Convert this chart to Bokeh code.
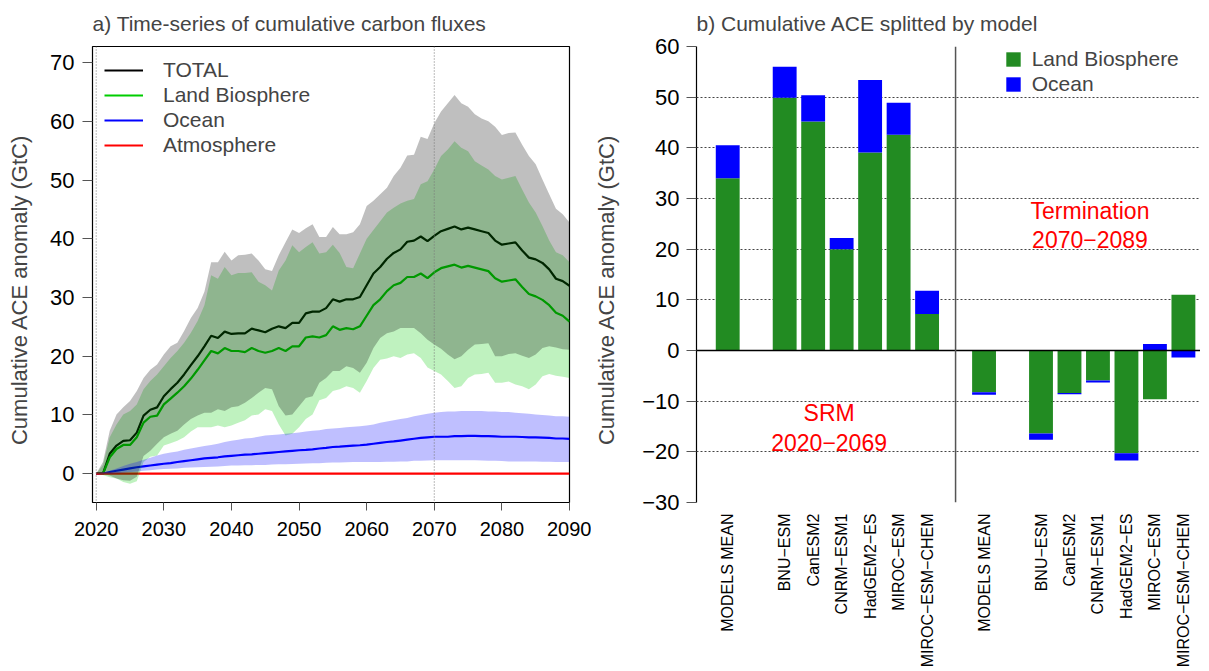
import math
from bokeh.plotting import figure
from bokeh.models import Legend, LegendItem, Span, Label, FixedTicker, Range1d
from bokeh.layouts import row
from bokeh.embed import file_html
from bokeh.resources import INLINE

FONT = "Liberation Sans"

# ---------------- panel a) data ----------------
years = list(range(2020, 2091))

total_mean = [0.0, 0.0, 3.4, 4.8, 5.6, 5.7, 7.0, 9.9, 10.9, 11.3,
              13.2, 14.4, 15.5, 16.9, 18.5, 20.0, 21.7, 23.5, 23.1, 24.2,
              23.8, 23.9, 23.9, 24.7, 24.4, 24.1, 24.7, 25.1, 24.8, 25.7,
              25.7, 27.3, 27.6, 27.6, 28.2, 29.7, 29.3, 29.7, 29.7, 30.1,
              32.1, 34.1, 35.2, 36.6, 37.6, 38.2, 39.5, 39.7, 40.4, 39.6,
              40.5, 41.3, 41.7, 42.1, 41.6, 41.9, 41.6, 41.3, 41.0, 39.7,
              39.0, 39.2, 39.4, 38.0, 36.8, 36.5, 35.9, 34.8, 33.2, 32.8,
              32.0]
total_lo = [0.0, -0.1, -0.3, -0.8, -1.1, -1.2, -0.5, 3.0, 3.9, 5.1,
            6.2, 6.8, 7.3, 8.4, 9.3, 9.9, 10.4, 10.4, 11.0, 10.7,
            11.3, 11.5, 12.1, 12.9, 13.8, 14.6, 14.4, 11.5, 9.9, 10.1,
            11.5, 12.9, 13.2, 15.5, 16.3, 17.5, 17.5, 18.3, 18.0, 17.2,
            18.9, 21.4, 23.1, 23.9, 24.2, 24.8, 24.8, 24.8, 23.9, 22.8,
            22.0, 21.3, 20.3, 19.5, 20.0, 21.1, 22.0, 22.1, 22.2, 20.0,
            20.0, 20.4, 20.5, 20.1, 19.7, 20.3, 21.4, 21.7, 21.5, 21.2,
            21.1]
total_hi = [0.0, 2.0, 7.3, 10.1, 11.3, 12.4, 14.1, 16.3, 17.7, 18.6,
            20.3, 21.7, 22.3, 24.3, 26.5, 28.2, 31.0, 36.0, 36.0, 37.8,
            36.3, 37.2, 37.3, 37.5, 36.3, 34.8, 34.5, 37.2, 39.4, 41.6,
            41.0, 41.8, 42.5, 40.3, 40.3, 42.0, 40.8, 40.8, 41.1, 42.5,
            45.6, 46.5, 47.6, 48.7, 50.7, 52.1, 54.2, 54.3, 57.4, 57.0,
            59.7, 61.7, 63.1, 64.5, 63.1, 62.5, 61.2, 60.5, 60.0, 59.1,
            57.7, 58.0, 58.1, 56.0, 54.1, 52.7, 50.1, 47.6, 45.1, 44.2,
            42.8]

land_mean = [0.0, 0.0, 2.8, 4.2, 4.9, 4.9, 6.2, 8.7, 9.7, 9.9,
             11.8, 12.8, 13.8, 14.9, 16.2, 17.7, 19.3, 20.9, 20.5, 21.4,
             20.9, 20.9, 20.7, 21.4, 20.9, 20.6, 20.9, 21.4, 20.9, 21.7,
             21.7, 23.2, 23.4, 23.2, 23.6, 25.1, 24.5, 24.8, 24.6, 25.1,
             26.9, 28.7, 29.7, 31.1, 32.1, 32.5, 33.5, 33.5, 34.1, 33.3,
             34.3, 35.0, 35.3, 35.6, 35.1, 35.4, 35.1, 34.8, 34.5, 33.3,
             32.7, 32.9, 33.1, 31.8, 30.6, 30.2, 29.6, 28.7, 27.4, 26.9,
             25.9]
land_lo = [0.0, -0.2, -0.6, -0.8, -1.4, -1.7, -1.3, 2.0, 2.9, 3.1,
           4.8, 5.2, 5.6, 6.2, 7.2, 7.9, 7.9, 7.9, 8.2, 7.9,
           8.2, 8.7, 9.1, 9.9, 10.1, 11.0, 10.7, 8.4, 6.5, 6.8,
           7.9, 9.3, 10.1, 12.5, 12.9, 14.1, 14.4, 14.9, 14.6, 13.8,
           15.8, 18.0, 19.4, 19.6, 20.0, 19.7, 20.3, 20.5, 19.7, 18.1,
           17.5, 16.9, 15.8, 14.6, 14.9, 16.3, 16.9, 17.0, 17.2, 15.5,
           15.5, 15.7, 15.2, 14.9, 14.4, 15.2, 16.6, 17.0, 16.7, 16.5,
           16.3]
land_hi = [0.0, 1.5, 6.2, 8.4, 10.1, 10.7, 11.8, 14.4, 15.8, 16.9,
           18.3, 19.7, 20.9, 22.3, 24.0, 26.0, 28.7, 33.8, 33.2, 35.2,
           33.8, 34.2, 34.2, 34.3, 32.7, 32.1, 31.2, 34.6, 36.3, 38.9,
           37.7, 38.6, 39.4, 37.5, 37.7, 39.0, 37.6, 35.2, 35.0, 37.5,
           40.0, 41.5, 43.0, 44.5, 45.3, 46.0, 46.5, 46.8, 49.3, 49.8,
           51.8, 54.1, 55.2, 56.6, 55.5, 54.9, 53.2, 52.5, 51.8, 50.7,
           50.1, 50.4, 50.7, 48.4, 46.2, 44.5, 42.2, 39.7, 37.7, 37.2,
           36.0]

ocean_mean = [0.0, 0.0, 0.3, 0.5, 0.7, 0.9, 1.1, 1.25, 1.4, 1.55,
              1.7, 1.8, 2.0, 2.15, 2.3, 2.45, 2.6, 2.7, 2.8, 2.95,
              3.05, 3.15, 3.25, 3.3, 3.4, 3.5, 3.6, 3.7, 3.8, 3.9,
              4.0, 4.05, 4.15, 4.3, 4.4, 4.55, 4.6, 4.7, 4.8, 4.85,
              4.95, 5.1, 5.25, 5.4, 5.5, 5.65, 5.8, 5.95, 6.1, 6.2,
              6.3, 6.3, 6.3, 6.4, 6.4, 6.45, 6.45, 6.4, 6.4, 6.35,
              6.3, 6.3, 6.3, 6.25, 6.2, 6.2, 6.15, 6.1, 6.0, 6.0,
              5.95]
ocean_lo = [0.0, 0.0, 0.0, 0.1, 0.2, 0.3, 0.4, 0.5, 0.6, 0.7,
            0.8, 0.85, 0.9, 1.0, 1.05, 1.1, 1.15, 1.2, 1.25, 1.3,
            1.4, 1.4, 1.45, 1.45, 1.5, 1.5, 1.55, 1.6, 1.6, 1.65,
            1.7, 1.75, 1.8, 1.8, 1.85, 1.9, 1.9, 1.95, 2.0, 2.0,
            2.0, 2.0, 2.0, 2.05, 2.05, 2.1, 2.1, 2.2, 2.2, 2.25,
            2.3, 2.3, 2.3, 2.3, 2.3, 2.3, 2.3, 2.25, 2.2, 2.2,
            2.15, 2.1, 2.1, 2.1, 2.1, 2.1, 2.05, 2.05, 2.0, 2.0,
            2.0]
ocean_hi = [0.0, 0.2, 0.5, 0.9, 1.3, 1.7, 2.0, 2.4, 2.7, 3.1,
            3.4, 3.6, 3.8, 4.1, 4.3, 4.5, 4.7, 4.9, 5.1, 5.4,
            5.6, 5.8, 6.0, 6.1, 6.3, 6.5, 6.6, 6.7, 6.8, 6.9,
            7.0, 7.2, 7.3, 7.4, 7.6, 7.7, 7.8, 7.9, 8.0, 8.1,
            8.2, 8.4, 8.7, 8.9, 9.1, 9.3, 9.5, 9.8, 10.0, 10.2,
            10.4, 10.5, 10.6, 10.6, 10.7, 10.7, 10.7, 10.7, 10.6, 10.6,
            10.5, 10.5, 10.4, 10.3, 10.2, 10.1, 10.0, 9.9, 9.8, 9.8,
            9.7]

atmosphere = [0.0, 0.0, 0.0, 0.0, 0.0, 0.0, 0.0, 0.0, 0.0, 0.0,
              0.0, 0.0, 0.0, 0.0, 0.0, 0.0, 0.0, 0.0, 0.0, 0.0,
              0.0, 0.0, 0.0, 0.0, 0.0, 0.0, 0.0, 0.0, 0.0, 0.0,
              0.0, 0.0, 0.0, 0.0, 0.0, 0.0, 0.0, 0.0, 0.0, 0.0,
              0.0, 0.0, 0.0, 0.0, 0.0, 0.0, 0.0, 0.0, 0.0, 0.0,
              0.0, 0.0, 0.0, 0.0, 0.0, 0.0, 0.0, 0.0, 0.0, 0.0,
              0.0, 0.0, 0.0, 0.0, 0.0, 0.0, 0.0, 0.0, 0.0, 0.0,
              0.0]

marked_years = [2020, 2070]
x_ticks_a = [2020, 2030, 2040, 2050, 2060, 2070, 2080, 2090]
y_ticks_a = [0, 10, 20, 30, 40, 50, 60, 70]

# ---------------- panel b) data ----------------
models = ["MODELS MEAN", "BNU-ESM", "CanESM2", "CNRM-ESM1", "HadGEM2-ES",
          "MIROC-ESM", "MIROC-ESM-CHEM"]
srm_land = [34.0, 49.9, 45.2, 20.0, 39.1, 42.6, 7.2]
srm_ocean = [6.5, 6.1, 5.2, 2.2, 14.3, 6.3, 4.6]
term_land = [-8.25, -16.4, -8.4, -5.9, -20.3, -9.6, 11.0]
term_ocean = [-0.5, -1.2, -0.25, -0.4, -1.4, 1.3, -1.4]
y_ticks_b = [-30, -20, -10, 0, 10, 20, 30, 40, 50, 60]
period_texts = [("SRM", "2020\u22122069"), ("Termination", "2070\u22122089")]

Y_LABEL = "Cumulative ACE anomaly (GtC)" + "\u00a0" * 5
H = 670          # both panels share the same frame top/bottom
B_TOP, B_BOT = 46, 164


def style_title(p, text):
    p.title.text = text
    p.title.text_font = FONT
    p.title.text_font_size = "21px"
    p.title.text_font_style = "normal"
    p.title.vertical_align = "top"
    p.title.standoff = 20
    p.title.offset = 0


# ====================== panel a ======================
p1 = figure(width=591, height=H, output_backend="svg", toolbar_location=None,
            x_range=Range1d(2019.45, 2090), y_range=Range1d(-4.9, 72.75),
            min_border_left=92, min_border_right=22, min_border_top=B_TOP,
            min_border_bottom=B_BOT)
style_title(p1, "a) Time-series of cumulative carbon fluxes")

r_tot = p1.line(years, total_mean, line_color="black", line_width=2.2)
r_land = p1.line(years, land_mean, line_color="#00CD00", line_width=2.2)
r_oc = p1.line(years, ocean_mean, line_color="#0000FF", line_width=2.2)
r_atm = p1.line(years, atmosphere, line_color="#FF0000", line_width=2.2)

p1.varea(x=years, y1=land_lo, y2=land_hi, fill_color="#00CD00", fill_alpha=0.25)
p1.varea(x=years, y1=total_lo, y2=total_hi, fill_color="black", fill_alpha=0.25)
p1.varea(x=years, y1=ocean_lo, y2=ocean_hi, fill_color="#0000FF", fill_alpha=0.25)

for yr in marked_years:
    p1.add_layout(Span(location=yr, dimension="height", line_color="#777777",
                       line_dash="1 2", line_width=1))

p1.xaxis.ticker = FixedTicker(ticks=x_ticks_a)
p1.yaxis.ticker = FixedTicker(ticks=y_ticks_a)
p1.xgrid.visible = False
p1.ygrid.visible = False
p1.outline_line_color = "black"
p1.outline_line_width = 1.2
p1.outline_line_alpha = 1.0
for ax in (p1.xaxis[0], p1.yaxis[0]):
    ax.axis_line_color = None
    ax.major_tick_line_color = "#555555"
    ax.minor_tick_line_color = None
    ax.major_tick_in = 0
    ax.major_label_text_font = FONT
    ax.major_label_text_color = "black"
p1.xaxis.major_tick_out = 8
p1.xaxis.major_label_text_font_size = "20px"
p1.xaxis.major_label_standoff = 11
p1.yaxis.major_tick_out = 10
p1.yaxis.major_label_text_font_size = "22px"
p1.yaxis.major_label_standoff = 8
p1.yaxis.axis_label = Y_LABEL
p1.yaxis.axis_label_text_font = FONT
p1.yaxis.axis_label_text_font_size = "22px"
p1.yaxis.axis_label_text_font_style = "normal"
p1.yaxis.axis_label_standoff = 15

leg1 = Legend(items=[LegendItem(label="TOTAL", renderers=[r_tot]),
                     LegendItem(label="Land Biosphere", renderers=[r_land]),
                     LegendItem(label="Ocean", renderers=[r_oc]),
                     LegendItem(label="Atmosphere", renderers=[r_atm])],
              location="top_left", margin=12, padding=4, spacing=1,
              glyph_width=39, glyph_height=20, label_height=20, label_standoff=20,
              label_text_font=FONT, label_text_font_size="21px",
              border_line_color=None, background_fill_alpha=0)
p1.add_layout(leg1)

# ====================== panel b ======================
layout_slots = []
for grp in (models, models):
    layout_slots += [grp[0], None] + grp[1:]   # empty slot after MODELS MEAN
    layout_slots.append("|")                   # separator slot between periods
layout_slots = layout_slots[:-1]

bar_x, bar_names = [], []
for i, name in enumerate(layout_slots):
    if name is not None and name != "|":
        bar_x.append(i)
        bar_names.append(name)
sep_x = layout_slots.index("|")

land_vals = srm_land + term_land
ocean_vals = srm_ocean + term_ocean
oc_bottom, oc_top = [], []
for lv, ov in zip(land_vals, ocean_vals):
    if (lv >= 0) == (ov >= 0):
        oc_bottom.append(lv)
        oc_top.append(lv + ov)
    else:
        oc_bottom.append(0.0)
        oc_top.append(ov)

p2 = figure(width=609, height=H, output_backend="svg", toolbar_location=None,
            x_range=Range1d(-1.096, 16.60), y_range=Range1d(y_ticks_b[0], y_ticks_b[-1]),
            min_border_left=102, min_border_right=0, min_border_top=B_TOP,
            min_border_bottom=B_BOT)
style_title(p2, "b) Cumulative ACE splitted by model")
p2.outline_line_color = None

r_lb = p2.vbar(x=bar_x, width=0.838, bottom=0, top=land_vals,
               fill_color="#228B22", line_color=None)
r_ob = p2.vbar(x=bar_x, width=0.838, bottom=oc_bottom, top=oc_top,
               fill_color="#0000FF", line_color=None)

p2.add_layout(Span(location=0, dimension="width", line_color="black", line_width=1.3))
p2.add_layout(Span(location=sep_x, dimension="height", line_color="#555555",
                   line_width=1.5))

p2.xgrid.visible = False
p2.ygrid.ticker = FixedTicker(ticks=y_ticks_b)
p2.ygrid.grid_line_color = "#444444"
p2.ygrid.grid_line_dash = "2 2"
p2.ygrid.grid_line_width = 1

p2.yaxis.ticker = FixedTicker(ticks=y_ticks_b)
p2.yaxis.axis_line_color = "black"
p2.yaxis.axis_line_width = 1.2
p2.yaxis.major_tick_line_color = "#555555"
p2.yaxis.minor_tick_line_color = None
p2.yaxis.major_tick_in = 0
p2.yaxis.major_tick_out = 10
p2.yaxis.major_label_standoff = 7
p2.yaxis.major_label_text_font = FONT
p2.yaxis.major_label_text_font_size = "22px"
p2.yaxis.major_label_text_color = "black"
p2.yaxis.axis_label = Y_LABEL
p2.yaxis.axis_label_text_font = FONT
p2.yaxis.axis_label_text_font_size = "22px"
p2.yaxis.axis_label_text_font_style = "normal"
p2.yaxis.axis_label_standoff = 20

p2.xaxis.ticker = FixedTicker(ticks=bar_x)
p2.xaxis.major_label_overrides = {x: n.replace("-", "\u2212")
                                  for x, n in zip(bar_x, bar_names)}
p2.xaxis.axis_line_color = None
p2.xaxis.major_tick_line_color = None
p2.xaxis.minor_tick_line_color = None
p2.xaxis.major_tick_out = 0
p2.xaxis.major_tick_in = 0
p2.xaxis.major_label_orientation = math.pi / 2
p2.xaxis.major_label_standoff = 11
p2.xaxis.major_label_text_font = FONT
p2.xaxis.major_label_text_font_size = "16px"
p2.xaxis.major_label_text_color = "black"

text_pos = [(3.56, -12.3, -18.1), (12.72, 27.6, 22.0)]
for (t1, t2), (tx, ty1, ty2) in zip(period_texts, text_pos):
    for t, ty in ((t1, ty1), (t2, ty2)):
        p2.add_layout(Label(x=tx, y=ty, text=t, text_align="center",
                            text_baseline="middle", text_font=FONT,
                            text_font_size="23px", text_color="#FF0000"))

leg2 = Legend(items=[LegendItem(label="Land Biosphere", renderers=[r_lb]),
                     LegendItem(label="Ocean", renderers=[r_ob])],
              location=(307.7, 406), padding=3, spacing=1,
              glyph_width=18, glyph_height=18, label_height=18, label_standoff=10,
              label_text_font=FONT, label_text_font_size="21px",
              border_line_color=None, background_fill_alpha=0)
p2.add_layout(leg2)

layout = row(p1, p2)
open("out.html", "w").write(file_html(layout, INLINE))
